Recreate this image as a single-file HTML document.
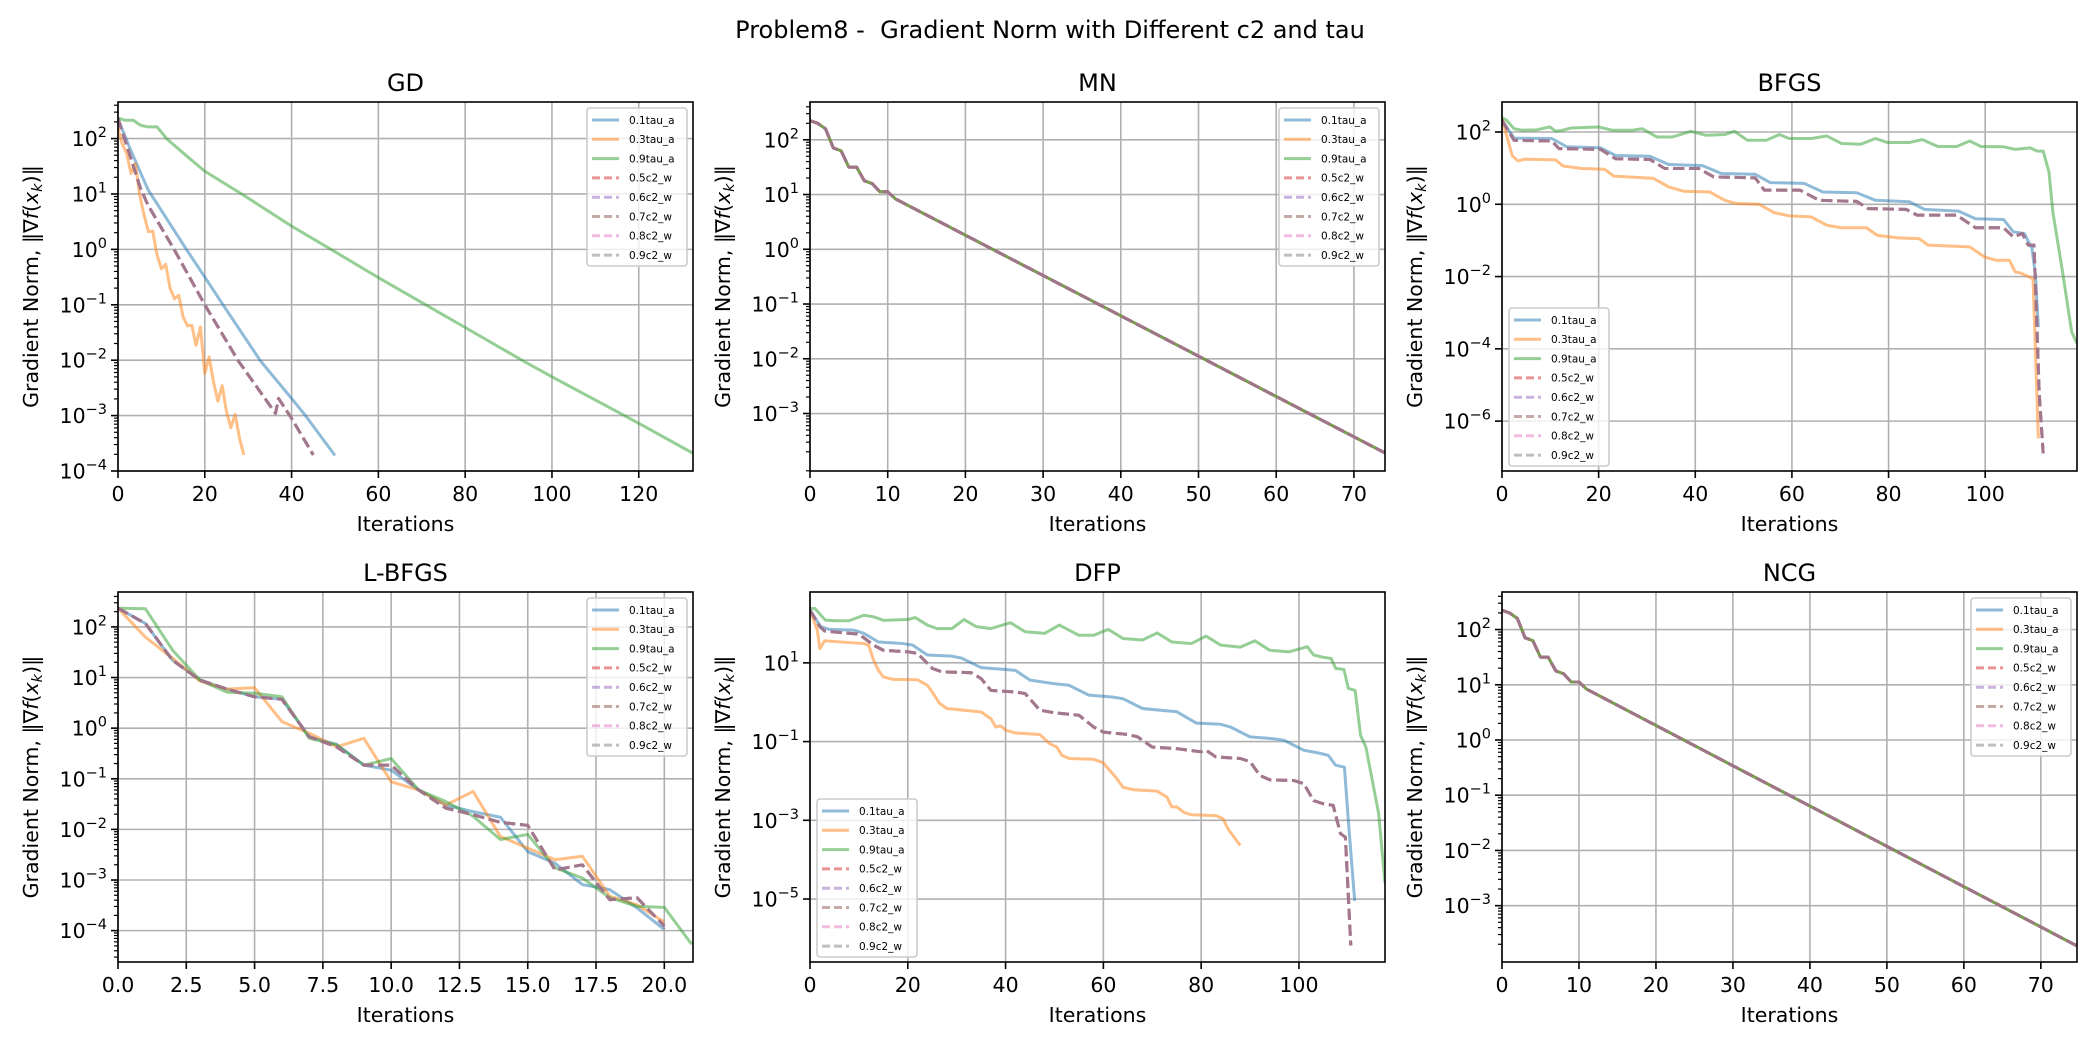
<!DOCTYPE html>
<html><head><meta charset="utf-8"><style>
html,body{margin:0;padding:0;background:#fff;}
svg{display:block;font-family:"DejaVu Sans","Liberation Sans",sans-serif;}
</style></head><body>
<svg id="fig" xmlns="http://www.w3.org/2000/svg" width="2100" height="1050" viewBox="0 0 2100 1050">
<rect x="0" y="0" width="2100" height="1050" fill="#fff"/>
<text x="1050" y="38" text-anchor="middle" font-size="24" fill="#000" style="white-space:pre">Problem8 - &#160;Gradient Norm with Different c2 and tau</text>
</svg>
<script>
// ---- data (log10 of gradient norm) ----
const seriesNames = ["0.1tau_a","0.3tau_a","0.9tau_a","0.5c2_w","0.6c2_w","0.7c2_w","0.8c2_w","0.9c2_w"];
// GD
const gd01x = [0,2.6,6.9,15.6,20,24.2,32.8,40,43.2,50];
const gd01y = [2.36,1.85,1.08,0.02,-0.5,-1.0,-2.01,-2.69,-3.0,-3.72];
const gd03x = [0,1,2,3,4,5,6,7,8,9,10,11,12,13,14,15,16,17,18,19,20,21,22,23,24,25,26,27,28,29];
const gd03y = [2.18,1.9,1.73,1.37,1.55,0.98,0.62,0.32,0.33,-0.1,-0.35,-0.27,-0.7,-0.89,-0.83,-1.22,-1.38,-1.37,-1.73,-1.4,-2.24,-1.94,-2.39,-2.74,-2.46,-2.93,-3.22,-2.98,-3.41,-3.71];
const gd09x = [0,1.7,3.5,5.2,6.9,9,11.2,15.6,20,28.5,40,49.3,60,70.9,80,93.3,100,116.7,120,132.5];
const gd09y = [2.37,2.33,2.33,2.24,2.21,2.21,2.0,1.7,1.41,1.0,0.42,-0.01,-0.51,-1.0,-1.41,-2.01,-2.3,-3.0,-3.14,-3.68];
const gdc2x = [0,5.2,6.9,13,20,27.7,36.3,37,40,45];
const gdc2y = [2.36,1.1,0.8,-0.01,-1.0,-2.01,-2.96,-2.69,-3.05,-3.71];
// MN
const mnx = [0,1,2,3,4,5,6,7,8,9,10,11,74];
const mny = [2.35,2.3,2.2,1.85,1.8,1.5,1.5,1.25,1.2,1.05,1.05,0.92,-3.72];
// BFGS
const bf01x = [0,2.5,10.3,13.4,20.4,23.5,30.6,34.5,41.5,45.4,52.4,55.5,62.5,66.4,73.4,77.3,84.3,87.4,94.5,98,103.8,105.8,108.1,109.7,110.4,111];
const bf01y = [2.32,1.83,1.82,1.59,1.56,1.35,1.33,1.1,1.07,0.85,0.83,0.6,0.58,0.34,0.32,0.11,0.07,-0.14,-0.19,-0.4,-0.42,-0.76,-0.81,-1.23,-1.96,-3.4];
const bf03x = [0,2.1,3.3,4.8,11.1,12.6,16.5,21.2,23.1,31.3,34.5,37.6,43,46.1,48.5,53.2,56.3,59.4,64,67.2,70.3,75.4,77.7,82,86.3,88.2,96.8,99.9,102.3,105,106.2,107.3,109.9,111];
const bf03y = [2.37,1.35,1.2,1.25,1.23,1.06,0.99,0.97,0.78,0.72,0.48,0.36,0.34,0.11,0.02,0.0,-0.23,-0.32,-0.35,-0.58,-0.65,-0.65,-0.86,-0.93,-0.95,-1.13,-1.18,-1.46,-1.55,-1.55,-1.87,-1.9,-2.06,-6.48];
const bf09x = [0,0.9,2.5,4.1,7.2,9.9,11.1,12.6,14.2,20,22.8,27,29,32.1,35.2,39.1,42.2,46.1,48.1,50.8,54.7,57.4,59.4,64,67.2,70.3,74.2,77.3,79.7,84.3,87,90.2,94.1,96.8,99.1,103.8,106.2,109.3,110.8,112,113.2,114,115.9,117.9,119];
const bf09y = [2.39,2.33,2.09,2.05,2.06,2.14,2.02,2.05,2.11,2.14,2.05,2.05,2.09,1.86,1.86,2.02,1.91,1.93,2.02,1.77,1.77,1.93,1.82,1.82,1.89,1.68,1.66,1.82,1.71,1.71,1.79,1.6,1.6,1.75,1.6,1.59,1.52,1.56,1.47,1.47,0.89,-0.21,-1.78,-3.53,-3.85];
const bfc2x = [0,2.5,10.3,11.8,20.4,23.5,30.6,33.7,40.7,43.8,52.4,54.3,61.7,65.6,73.4,75.8,83.6,85.9,94.1,98,103.8,105.8,107.7,108.9,110.1,110.4,111.2,112];
const bfc2y = [2.32,1.77,1.75,1.54,1.52,1.26,1.24,0.99,0.99,0.76,0.73,0.39,0.39,0.11,0.08,-0.12,-0.14,-0.3,-0.3,-0.65,-0.65,-0.9,-0.81,-1.13,-1.13,-2.24,-5.28,-6.89];
// L-BFGS
const lbx = [0,1,2,3,4,5,6,7,8,9,10,11,12,13,14,15,16,17,18,19,20];
const lb09x = [0,1,2,3,4,5,6,7,8,9,10,11,12,13,14,15,16,17,18,19,20,21];
const lb01y = [2.37,2.07,1.34,0.95,0.77,0.62,0.57,-0.17,-0.32,-0.73,-0.83,-1.22,-1.52,-1.65,-1.76,-2.44,-2.67,-3.09,-3.19,-3.55,-3.98];
const lb03y = [2.37,1.8,1.38,0.93,0.77,0.8,0.13,-0.1,-0.37,-0.2,-1.06,-1.22,-1.52,-1.25,-2.14,-2.37,-2.6,-2.53,-3.32,-3.49,-3.83];
const lb09y = [2.37,2.36,1.54,0.95,0.71,0.69,0.62,-0.2,-0.33,-0.73,-0.6,-1.22,-1.45,-1.74,-2.2,-2.1,-2.76,-2.96,-3.35,-3.52,-3.54,-4.27];
const lbc2y = [2.37,2.07,1.34,0.95,0.77,0.62,0.57,-0.17,-0.37,-0.73,-0.73,-1.22,-1.58,-1.71,-1.86,-1.92,-2.8,-2.7,-3.39,-3.35,-3.91];
// DFP
const df01x = [0,2.2,4,9,11,14,19,21,24,29,31,35,40,42,45,50,53,57,62,64,68,73,75,79,84,86,90,95,97,101,104,106,107.5,109.3,110.1,111.4];
const df01y = [2.34,1.92,1.85,1.83,1.75,1.53,1.49,1.45,1.2,1.17,1.12,0.88,0.83,0.81,0.56,0.47,0.43,0.18,0.13,0.09,-0.16,-0.22,-0.24,-0.53,-0.56,-0.63,-0.88,-0.93,-0.97,-1.22,-1.29,-1.35,-1.6,-1.65,-3.0,-5.05];
const df03x = [0,1.5,2,3,11,12,13,14,15,17,22,24,25,26.5,28,35,37,38,39,40,42,47,49,50.5,51.5,53,58,60,61,62.5,64,66,71,73,74,75,76.5,78,83,84.5,85.5,87,88];
const df03y = [2.34,1.83,1.36,1.56,1.49,1.45,1.07,0.81,0.64,0.58,0.57,0.43,0.26,-0.03,-0.16,-0.25,-0.42,-0.63,-0.6,-0.71,-0.78,-0.82,-1.05,-1.14,-1.35,-1.43,-1.45,-1.54,-1.69,-1.9,-2.16,-2.22,-2.26,-2.41,-2.66,-2.66,-2.8,-2.86,-2.88,-2.96,-3.22,-3.47,-3.64];
const df09x = [0,1,3.1,5,8,11,13,15,20,21.5,24,26,29,31.5,34,37,41,44,48,51,55,58,61,64,68,71,74,78,81,84,88,91,94,98,101.7,103,105,106.6,107.5,109.2,110.1,111.5,112.6,113.7,116.3,117.6];
const df09y = [2.38,2.38,2.09,2.07,2.07,2.21,2.17,2.08,2.1,2.15,1.96,1.87,1.87,2.1,1.92,1.87,2.02,1.79,1.75,1.96,1.7,1.7,1.85,1.62,1.58,1.76,1.53,1.49,1.68,1.45,1.4,1.56,1.32,1.28,1.41,1.2,1.14,1.11,0.86,0.83,0.35,0.3,-0.84,-1.14,-2.83,-4.6];
const dfc2x = [0,2,3,7,10,13,15,20,22,25,27,33,35,37,42,44,47,50,55,58,60,65,67,70,75,80,81,83,88,90,92,94,99,101,103,105,107,108.5,109.5,110.6];
const dfc2y = [2.34,1.92,1.81,1.76,1.73,1.45,1.32,1.28,1.24,0.86,0.77,0.75,0.6,0.3,0.26,0.22,-0.2,-0.27,-0.33,-0.63,-0.76,-0.82,-0.88,-1.14,-1.18,-1.26,-1.22,-1.39,-1.43,-1.51,-1.86,-1.97,-1.99,-2.07,-2.5,-2.58,-2.62,-3.34,-3.43,-6.18];
// NCG
const ncgx = [0,1,2,3,4,5,6,7,8,9,10,11,75];
const ncgy = [2.35,2.3,2.2,1.85,1.8,1.5,1.5,1.25,1.2,1.05,1.05,0.92,-3.75];
// tick labels
const xTicksGD = [0,20,40,60,80,100,120];
const xTicksMN = [0,10,20,30,40,50,60,70];
const xTicksBF = [0,20,40,60,80,100];
const xTicksLB = [0,2.5,5,7.5,10,12.5,15,17.5,20];
const xLabelsLB = ["0.0","2.5","5.0","7.5","10.0","12.5","15.0","17.5","20.0"];
const yExpGD = [2,1,0,-1,-2,-3,-4];
const yExpMN = [2,1,0,-1,-2,-3];
const yExpBF = [2,0,-2,-4,-6];
const yExpLB = [2,1,0,-1,-2,-3,-4];
const yExpDF = [1,-1,-3,-5];

const colors = ["#1f77b4","#ff7f0e","#2ca02c","#d62728","#9467bd","#8c564b","#e377c2","#7f7f7f"];
const NS = "http://www.w3.org/2000/svg";
const svg = document.getElementById('fig');
function mk(tag, attrs, parent){
  const e = document.createElementNS(NS, tag);
  for (const k in attrs) e.setAttribute(k, attrs[k]);
  (parent||svg).appendChild(e);
  return e;
}
const panels = [
 {key:'gd', title:'GD', L:118, T:102, W:575, H:369, xmax:132.5, ymin:-4.0, ymax:2.66, xt:xTicksGD, xl:null, ye:yExpGD, minor:true, leg:'ur',
  s:[[gd01x,gd01y],[gd03x,gd03y],[gd09x,gd09y],[gdc2x,gdc2y],[gdc2x,gdc2y],[gdc2x,gdc2y],[gdc2x,gdc2y],[gdc2x,gdc2y]]},
 {key:'mn', title:'MN', L:810, T:102, W:575, H:369, xmax:74, ymin:-4.05, ymax:2.69, xt:xTicksMN, xl:null, ye:yExpMN, minor:true, leg:'ur',
  s:[[mnx,mny],[mnx,mny],[mnx,mny],[mnx,mny],[mnx,mny],[mnx,mny],[mnx,mny],[mnx,mny]]},
 {key:'bfgs', title:'BFGS', L:1502, T:102, W:575, H:369, xmax:119, ymin:-7.38, ymax:2.83, xt:xTicksBF, xl:null, ye:yExpBF, minor:false, leg:'ll',
  s:[[bf01x,bf01y],[bf03x,bf03y],[bf09x,bf09y],[bfc2x,bfc2y],[bfc2x,bfc2y],[bfc2x,bfc2y],[bfc2x,bfc2y],[bfc2x,bfc2y]]},
 {key:'lbfgs', title:'L-BFGS', L:118, T:592, W:575, H:370, xmax:21.05, ymin:-4.62, ymax:2.69, xt:xTicksLB, xl:xLabelsLB, ye:yExpLB, minor:true, leg:'ur',
  s:[[lbx,lb01y],[lbx,lb03y],[lb09x,lb09y],[lbx,lbc2y],[lbx,lbc2y],[lbx,lbc2y],[lbx,lbc2y],[lbx,lbc2y]]},
 {key:'dfp', title:'DFP', L:810, T:592, W:575, H:370, xmax:117.6, ymin:-6.6, ymax:2.8, xt:xTicksBF, xl:null, ye:yExpDF, minor:false, leg:'ll',
  s:[[df01x,df01y],[df03x,df03y],[df09x,df09y],[dfc2x,dfc2y],[dfc2x,dfc2y],[dfc2x,dfc2y],[dfc2x,dfc2y],[dfc2x,dfc2y]]},
 {key:'ncg', title:'NCG', L:1502, T:592, W:575, H:370, xmax:74.7, ymin:-4.02, ymax:2.68, xt:xTicksMN, xl:null, ye:yExpMN, minor:true, leg:'ur',
  s:[[ncgx,ncgy],[ncgx,ncgy],[ncgx,ncgy],[ncgx,ncgy],[ncgx,ncgy],[ncgx,ncgy],[ncgx,ncgy],[ncgx,ncgy]]}
];

panels.forEach(function(p){
  const g = mk('g', {});
  
  
  const X = v => p.L + v / p.xmax * p.W;
  const Y = v => p.T + (p.ymax - v) / (p.ymax - p.ymin) * p.H;
  const B = p.T + p.H, R = p.L + p.W;
  const clip = mk('clipPath', {id:'clip-'+p.key}, g);
  mk('rect', {x:p.L, y:p.T, width:p.W, height:p.H}, clip);
  p.xt.forEach(function(t){
    const l = mk('line', {x1:X(t), x2:X(t), y1:p.T, y2:B, stroke:'#b0b0b0', 'stroke-width':1.6}, g);
    
    
  });
  p.ye.forEach(function(e){
    const l = mk('line', {x1:p.L, x2:R, y1:Y(e), y2:Y(e), stroke:'#b0b0b0', 'stroke-width':1.6}, g);
    
    
  });
  p.s.forEach(function(sd, i){
    const xs = sd[0], ys = sd[1];
    let d = '';
    for (let k = 0; k < ys.length && k < xs.length; k++) d += (k ? 'L' : 'M') + X(xs[k]).toFixed(2) + ',' + Y(ys[k]).toFixed(2);
    const attrs = {d:d, fill:'none', stroke:colors[i], 'stroke-width':3, 'stroke-opacity':0.5, 'clip-path':'url(#clip-'+p.key+')', 'stroke-linejoin':'round'};
    if (i >= 3) attrs['stroke-dasharray'] = '11.1,4.8';
    const path = mk('path', attrs, g);
    
    
  });
  const fr = mk('rect', {x:p.L, y:p.T, width:p.W, height:p.H, fill:'none', stroke:'#000', 'stroke-width':1.6}, g);
  
  
  p.xt.forEach(function(t, j){
    mk('line', {x1:X(t), x2:X(t), y1:B, y2:B+7, stroke:'#000', 'stroke-width':1.6}, g);
    const tx = mk('text', {x:X(t), y:B+30, 'text-anchor':'middle', 'font-size':20.5, fill:'#000'}, g);
    tx.textContent = p.xl ? p.xl[j] : String(t);
    
    
  });
  p.ye.forEach(function(e){
    const y = Y(e);
    mk('line', {x1:p.L-7, x2:p.L, y1:y, y2:y, stroke:'#000', 'stroke-width':1.6}, g);
    const tx = mk('text', {x:p.L-11, y:y+7.5, 'text-anchor':'end', 'font-size':20.5, fill:'#000'}, g);
    const ex = (e < 0 ? '\u2212' : '') + Math.abs(e);
    const t1 = mk('tspan', {}, tx); t1.textContent = '10';
    const t2 = mk('tspan', {dy:-9, 'font-size':14.5}, tx); t2.textContent = ex;
    
    
  });
  if (p.minor) {
    for (let dec = Math.floor(p.ymin); dec <= Math.ceil(p.ymax); dec++) {
      for (let m = 2; m <= 9; m++) {
        const v = dec + Math.log10(m);
        if (v < p.ymin || v > p.ymax) continue;
        mk('line', {x1:p.L-4, x2:p.L, y1:Y(v), y2:Y(v), stroke:'#000', 'stroke-width':1.2}, g);
      }
    }
  }
  const tt = mk('text', {x:p.L+p.W/2, y:p.T-11, 'text-anchor':'middle', 'font-size':24, fill:'#000'}, g);
  tt.textContent = p.title;
  
  
  const xl = mk('text', {x:p.L+p.W/2, y:B+60, 'text-anchor':'middle', 'font-size':20.5, fill:'#000'}, g);
  xl.textContent = 'Iterations';
  
  
  const cx = p.L - 80, cy = p.T + p.H/2;
  const yl = mk('text', {x:cx, y:cy, 'text-anchor':'middle', 'font-size':20.5, fill:'#000', transform:'rotate(-90 '+cx+' '+cy+')'}, g);
  const a = mk('tspan', {}, yl); a.textContent = 'Gradient Norm, \u2016\u2207';
  const b = mk('tspan', {'font-style':'italic'}, yl); b.textContent = 'f';
  const c = mk('tspan', {}, yl); c.textContent = '(';
  const d2 = mk('tspan', {'font-style':'italic'}, yl); d2.textContent = 'x';
  const e2 = mk('tspan', {'font-style':'italic', 'font-size':14.5, dy:4}, yl); e2.textContent = 'k';
  const f2 = mk('tspan', {dy:-4}, yl); f2.textContent = ')\u2016';
  
  
  const lw = 100, lh = 158;
  const lx = p.leg === 'ur' ? R - 6 - lw : p.L + 7;
  const ly = p.leg === 'ur' ? p.T + 6 : B - 5 - lh;
  const lg = mk('g', {}, g);
  
  
  mk('rect', {x:lx, y:ly, width:lw, height:lh, rx:3, fill:'#fff', 'fill-opacity':0.8, stroke:'#cccccc', 'stroke-width':1.6}, lg);
  seriesNames.forEach(function(nm, i){
    const yy = ly + 12 + i * 19.3;
    const ent = mk('g', {}, lg);
    
    
    const la = {x1:lx+5, x2:lx+32, y1:yy, y2:yy, stroke:colors[i], 'stroke-width':3, 'stroke-opacity':0.5};
    if (i >= 3) la['stroke-dasharray'] = '8,4';
    mk('line', la, ent);
    const t = mk('text', {x:lx+42, y:yy+3.8, 'font-size':10.5, fill:'#000'}, ent);
    t.textContent = nm;
  });
});
</script>
</body></html>
